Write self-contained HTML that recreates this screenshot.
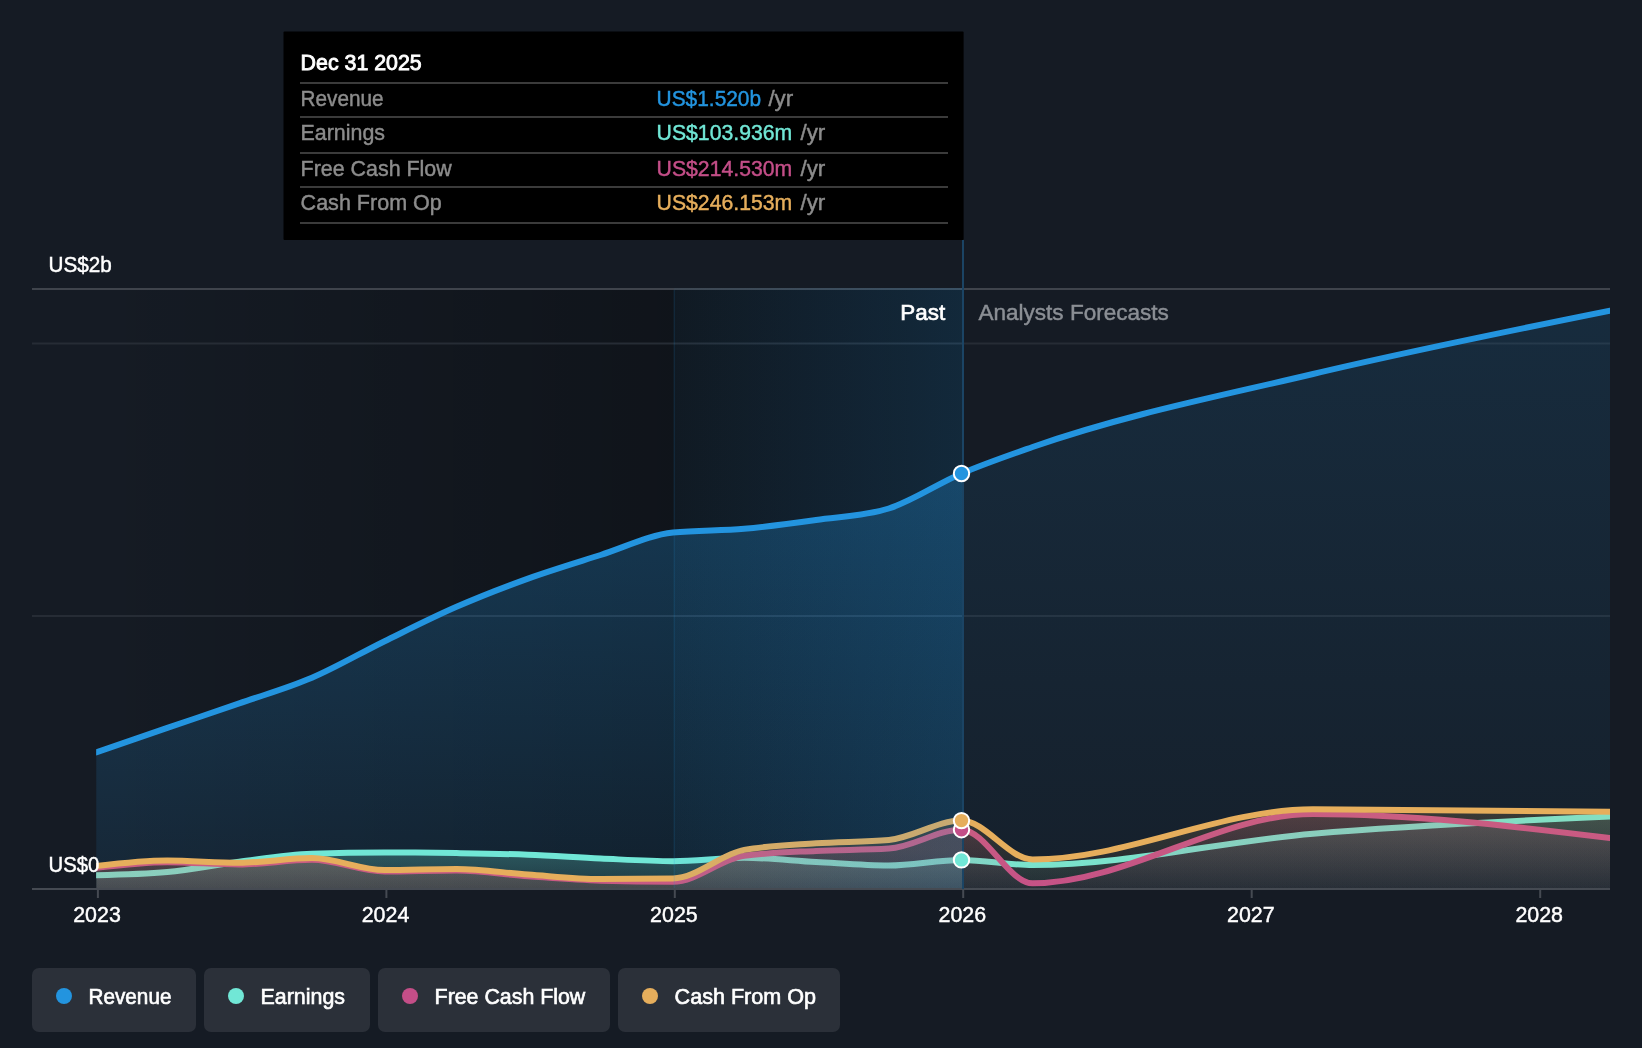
<!DOCTYPE html>
<html lang="en">
<head>
<meta charset="utf-8">
<title>Earnings and Revenue Growth</title>
<style>
html,body{margin:0;padding:0;background:#151b24;}
body{width:1642px;height:1048px;overflow:hidden;}
svg{display:block;will-change:transform;}
text{font-family:"Liberation Sans",sans-serif;}
.med{stroke-width:0.65px;}
</style>
</head>
<body>
<svg width="1642" height="1048" viewBox="0 0 1642 1048">
<defs>
  <linearGradient id="gPast" x1="0" y1="0" x2="1" y2="0">
    <stop offset="0" stop-color="#000" stop-opacity="0"/>
    <stop offset="0.667" stop-color="#000" stop-opacity="0.27"/>
    <stop offset="1" stop-color="#000" stop-opacity="0.30"/>
  </linearGradient>
  <linearGradient id="gHi" x1="0" y1="0" x2="1" y2="0">
    <stop offset="0" stop-color="#2394df" stop-opacity="0.045"/>
    <stop offset="1" stop-color="#2394df" stop-opacity="0.17"/>
  </linearGradient>
  <linearGradient id="gRevPast" gradientUnits="userSpaceOnUse" x1="0" y1="473" x2="0" y2="889">
    <stop offset="0" stop-color="#2394df" stop-opacity="0.29"/>
    <stop offset="1" stop-color="#2394df" stop-opacity="0.095"/>
  </linearGradient>
  <linearGradient id="gRevFut" gradientUnits="userSpaceOnUse" x1="0" y1="310" x2="0" y2="889">
    <stop offset="0" stop-color="#2394df" stop-opacity="0.137"/>
    <stop offset="1" stop-color="#2394df" stop-opacity="0.04"/>
  </linearGradient>
  <linearGradient id="gEar" gradientUnits="userSpaceOnUse" x1="0" y1="850" x2="0" y2="889">
    <stop offset="0" stop-color="#71e7d6" stop-opacity="0.27"/>
    <stop offset="1" stop-color="#71e7d6" stop-opacity="0.12"/>
  </linearGradient>
  <linearGradient id="gEarF" gradientUnits="userSpaceOnUse" x1="0" y1="810" x2="0" y2="889">
    <stop offset="0" stop-color="#71e7d6" stop-opacity="0.17"/>
    <stop offset="1" stop-color="#71e7d6" stop-opacity="0.04"/>
  </linearGradient>
  <linearGradient id="gFcf" gradientUnits="userSpaceOnUse" x1="0" y1="850" x2="0" y2="889">
    <stop offset="0" stop-color="#c44e88" stop-opacity="0.16"/>
    <stop offset="1" stop-color="#c44e88" stop-opacity="0.11"/>
  </linearGradient>
  <linearGradient id="gFcfF" gradientUnits="userSpaceOnUse" x1="0" y1="810" x2="0" y2="889">
    <stop offset="0" stop-color="#c44e88" stop-opacity="0.17"/>
    <stop offset="1" stop-color="#c44e88" stop-opacity="0.04"/>
  </linearGradient>
  <linearGradient id="gCfo" gradientUnits="userSpaceOnUse" x1="0" y1="850" x2="0" y2="889">
    <stop offset="0" stop-color="#e6ae5c" stop-opacity="0.17"/>
    <stop offset="1" stop-color="#e6ae5c" stop-opacity="0.11"/>
  </linearGradient>
  <linearGradient id="gCfoF" gradientUnits="userSpaceOnUse" x1="0" y1="810" x2="0" y2="889">
    <stop offset="0" stop-color="#e6ae5c" stop-opacity="0.17"/>
    <stop offset="1" stop-color="#e6ae5c" stop-opacity="0.04"/>
  </linearGradient>
  <clipPath id="cPast"><rect x="96.15" y="280" width="866.85" height="620"/></clipPath>
  <clipPath id="cFut"><rect x="963.0" y="280" width="647.0" height="620"/></clipPath>
  <clipPath id="cHi"><rect x="674.0" y="280" width="289.0" height="620"/></clipPath>
  <clipPath id="cPlot"><rect x="96.15" y="280" width="1513.85" height="611"/></clipPath>
</defs>
<rect x="0" y="0" width="1642" height="1048" fill="#151b24"/>

<rect x="96.15" y="290" width="866.85" height="599.0" fill="url(#gPast)"/>
<rect x="32.0" y="288" width="1578.0" height="2" fill="#3f444c"/>
<rect x="32.0" y="342.5" width="1578.0" height="2" fill="#262c35"/>
<rect x="32.0" y="615" width="1578.0" height="2" fill="#262c35"/>
<g clip-path="url(#cPlot)">
<g clip-path="url(#cPast)"><path d="M96.15,752.30 C119.87,744.15 143.58,736.01 167.30,727.90 C191.27,719.71 215.23,711.70 239.20,703.40 C263.43,695.01 287.67,688.17 311.90,677.80 C336.13,667.43 360.37,653.10 384.60,641.20 C408.57,629.44 432.53,617.26 456.50,606.80 C480.33,596.40 504.17,587.18 528.00,578.60 C552.20,569.89 576.40,562.69 600.60,555.00 C624.75,547.32 648.90,535.01 673.05,532.50 C696.77,530.03 720.48,530.86 744.20,528.80 C768.17,526.71 792.13,523.36 816.10,520.00 C840.33,516.60 864.57,516.17 888.80,508.50 C913.03,500.83 937.27,483.83 961.50,473.50 C985.20,463.39 1008.90,455.29 1032.60,447.00 C1126.07,414.29 1219.53,396.19 1313.00,374.00 C1412.00,350.50 1511.00,330.60 1610.00,310.70 L1610.0,889.0 L96.15,889.0 Z" fill="url(#gRevPast)"/></g>
<g clip-path="url(#cFut)"><path d="M96.15,752.30 C119.87,744.15 143.58,736.01 167.30,727.90 C191.27,719.71 215.23,711.70 239.20,703.40 C263.43,695.01 287.67,688.17 311.90,677.80 C336.13,667.43 360.37,653.10 384.60,641.20 C408.57,629.44 432.53,617.26 456.50,606.80 C480.33,596.40 504.17,587.18 528.00,578.60 C552.20,569.89 576.40,562.69 600.60,555.00 C624.75,547.32 648.90,535.01 673.05,532.50 C696.77,530.03 720.48,530.86 744.20,528.80 C768.17,526.71 792.13,523.36 816.10,520.00 C840.33,516.60 864.57,516.17 888.80,508.50 C913.03,500.83 937.27,483.83 961.50,473.50 C985.20,463.39 1008.90,455.29 1032.60,447.00 C1126.07,414.29 1219.53,396.19 1313.00,374.00 C1412.00,350.50 1511.00,330.60 1610.00,310.70 L1610.0,889.0 L96.15,889.0 Z" fill="url(#gRevFut)"/></g>
<path d="M90.15,754.36 L96.15,752.30 C119.87,744.15 143.58,736.01 167.30,727.90 C191.27,719.71 215.23,711.70 239.20,703.40 C263.43,695.01 287.67,688.17 311.90,677.80 C336.13,667.43 360.37,653.10 384.60,641.20 C408.57,629.44 432.53,617.26 456.50,606.80 C480.33,596.40 504.17,587.18 528.00,578.60 C552.20,569.89 576.40,562.69 600.60,555.00 C624.75,547.32 648.90,535.01 673.05,532.50 C696.77,530.03 720.48,530.86 744.20,528.80 C768.17,526.71 792.13,523.36 816.10,520.00 C840.33,516.60 864.57,516.17 888.80,508.50 C913.03,500.83 937.27,483.83 961.50,473.50 C985.20,463.39 1008.90,455.29 1032.60,447.00 C1126.07,414.29 1219.53,396.19 1313.00,374.00 C1412.00,350.50 1511.00,330.60 1610.00,310.70 L1616.00,309.42" fill="none" stroke="#2394df" stroke-width="6" stroke-linejoin="round"/>
<g clip-path="url(#cPast)"><path d="M96.15,875.20 C119.87,874.67 143.58,874.13 167.30,872.00 C191.27,869.84 215.23,864.72 239.20,861.70 C263.43,858.65 287.67,854.67 311.90,853.80 C336.13,852.93 360.37,852.50 384.60,852.50 C408.57,852.50 432.53,852.73 456.50,853.10 C480.33,853.47 504.17,853.81 528.00,854.70 C552.20,855.60 576.40,857.42 600.60,858.50 C624.75,859.58 648.90,861.20 673.05,861.20 C696.77,861.20 720.48,857.80 744.20,857.80 C768.17,857.80 792.13,860.72 816.10,862.00 C840.33,863.29 864.57,865.50 888.80,865.50 C913.03,865.50 937.27,859.90 961.50,859.90 C985.20,859.90 1008.90,865.10 1032.60,865.10 C1126.07,865.10 1219.53,841.70 1313.00,833.70 C1412.00,825.23 1511.00,820.91 1610.00,816.60 L1610.0,889.0 L96.15,889.0 Z" fill="url(#gEar)"/></g>
<g clip-path="url(#cFut)"><path d="M96.15,875.20 C119.87,874.67 143.58,874.13 167.30,872.00 C191.27,869.84 215.23,864.72 239.20,861.70 C263.43,858.65 287.67,854.67 311.90,853.80 C336.13,852.93 360.37,852.50 384.60,852.50 C408.57,852.50 432.53,852.73 456.50,853.10 C480.33,853.47 504.17,853.81 528.00,854.70 C552.20,855.60 576.40,857.42 600.60,858.50 C624.75,859.58 648.90,861.20 673.05,861.20 C696.77,861.20 720.48,857.80 744.20,857.80 C768.17,857.80 792.13,860.72 816.10,862.00 C840.33,863.29 864.57,865.50 888.80,865.50 C913.03,865.50 937.27,859.90 961.50,859.90 C985.20,859.90 1008.90,865.10 1032.60,865.10 C1126.07,865.10 1219.53,841.70 1313.00,833.70 C1412.00,825.23 1511.00,820.91 1610.00,816.60 L1610.0,889.0 L96.15,889.0 Z" fill="url(#gEarF)"/></g>
<path d="M90.15,875.47 L96.15,875.20 C119.87,874.67 143.58,874.13 167.30,872.00 C191.27,869.84 215.23,864.72 239.20,861.70 C263.43,858.65 287.67,854.67 311.90,853.80 C336.13,852.93 360.37,852.50 384.60,852.50 C408.57,852.50 432.53,852.73 456.50,853.10 C480.33,853.47 504.17,853.81 528.00,854.70 C552.20,855.60 576.40,857.42 600.60,858.50 C624.75,859.58 648.90,861.20 673.05,861.20 C696.77,861.20 720.48,857.80 744.20,857.80 C768.17,857.80 792.13,860.72 816.10,862.00 C840.33,863.29 864.57,865.50 888.80,865.50 C913.03,865.50 937.27,859.90 961.50,859.90 C985.20,859.90 1008.90,865.10 1032.60,865.10 C1126.07,865.10 1219.53,841.70 1313.00,833.70 C1412.00,825.23 1511.00,820.91 1610.00,816.60 L1616.00,816.25" fill="none" stroke="#71e7d6" stroke-width="6" stroke-linejoin="round"/>
<g clip-path="url(#cPast)"><path d="M96.15,867.80 C119.87,865.00 143.58,862.20 167.30,862.20 C191.27,862.20 215.23,864.50 239.20,864.50 C263.43,864.50 287.67,859.80 311.90,859.80 C336.13,859.80 360.37,871.60 384.60,871.60 C408.57,871.60 432.53,870.60 456.50,870.60 C480.33,870.60 504.17,874.53 528.00,876.20 C552.20,877.90 576.40,879.97 600.60,880.70 C624.75,881.43 648.90,881.80 673.05,881.80 C696.77,881.80 720.48,859.03 744.20,855.80 C768.17,852.53 792.13,852.10 816.10,850.90 C840.33,849.69 864.57,850.13 888.80,848.60 C913.03,847.07 937.27,829.70 961.50,829.70 C985.20,829.70 1008.90,883.30 1032.60,883.30 C1126.07,883.30 1219.53,814.00 1313.00,814.00 C1412.00,814.00 1511.00,826.05 1610.00,838.10 L1610.0,889.0 L96.15,889.0 Z" fill="url(#gFcf)"/></g>
<g clip-path="url(#cFut)"><path d="M96.15,867.80 C119.87,865.00 143.58,862.20 167.30,862.20 C191.27,862.20 215.23,864.50 239.20,864.50 C263.43,864.50 287.67,859.80 311.90,859.80 C336.13,859.80 360.37,871.60 384.60,871.60 C408.57,871.60 432.53,870.60 456.50,870.60 C480.33,870.60 504.17,874.53 528.00,876.20 C552.20,877.90 576.40,879.97 600.60,880.70 C624.75,881.43 648.90,881.80 673.05,881.80 C696.77,881.80 720.48,859.03 744.20,855.80 C768.17,852.53 792.13,852.10 816.10,850.90 C840.33,849.69 864.57,850.13 888.80,848.60 C913.03,847.07 937.27,829.70 961.50,829.70 C985.20,829.70 1008.90,883.30 1032.60,883.30 C1126.07,883.30 1219.53,814.00 1313.00,814.00 C1412.00,814.00 1511.00,826.05 1610.00,838.10 L1610.0,889.0 L96.15,889.0 Z" fill="url(#gFcfF)"/></g>
<path d="M90.15,868.27 L96.15,867.80 C119.87,865.00 143.58,862.20 167.30,862.20 C191.27,862.20 215.23,864.50 239.20,864.50 C263.43,864.50 287.67,859.80 311.90,859.80 C336.13,859.80 360.37,871.60 384.60,871.60 C408.57,871.60 432.53,870.60 456.50,870.60 C480.33,870.60 504.17,874.53 528.00,876.20 C552.20,877.90 576.40,879.97 600.60,880.70 C624.75,881.43 648.90,881.80 673.05,881.80 C696.77,881.80 720.48,859.03 744.20,855.80 C768.17,852.53 792.13,852.10 816.10,850.90 C840.33,849.69 864.57,850.13 888.80,848.60 C913.03,847.07 937.27,829.70 961.50,829.70 C985.20,829.70 1008.90,883.30 1032.60,883.30 C1126.07,883.30 1219.53,814.00 1313.00,814.00 C1412.00,814.00 1511.00,826.05 1610.00,838.10 L1616.00,838.59" fill="none" stroke="#c44e88" stroke-width="6" stroke-linejoin="round"/>
<g clip-path="url(#cPast)"><path d="M96.15,866.00 C119.87,863.25 143.58,860.50 167.30,860.50 C191.27,860.50 215.23,862.80 239.20,862.80 C263.43,862.80 287.67,858.10 311.90,858.10 C336.13,858.10 360.37,870.00 384.60,870.00 C408.57,870.00 432.53,869.00 456.50,869.00 C480.33,869.00 504.17,872.84 528.00,874.50 C552.20,876.18 576.40,879.00 600.60,879.00 C624.75,879.00 648.90,878.80 673.05,878.40 C696.77,878.01 720.48,854.25 744.20,849.90 C768.17,845.50 792.13,844.95 816.10,843.30 C840.33,841.63 864.57,842.20 888.80,840.00 C913.03,837.80 937.27,820.60 961.50,820.60 C985.20,820.60 1008.90,859.40 1032.60,859.40 C1126.07,859.40 1219.53,809.30 1313.00,809.30 C1412.00,809.30 1511.00,810.55 1610.00,811.80 L1610.0,889.0 L96.15,889.0 Z" fill="url(#gCfo)"/></g>
<g clip-path="url(#cFut)"><path d="M96.15,866.00 C119.87,863.25 143.58,860.50 167.30,860.50 C191.27,860.50 215.23,862.80 239.20,862.80 C263.43,862.80 287.67,858.10 311.90,858.10 C336.13,858.10 360.37,870.00 384.60,870.00 C408.57,870.00 432.53,869.00 456.50,869.00 C480.33,869.00 504.17,872.84 528.00,874.50 C552.20,876.18 576.40,879.00 600.60,879.00 C624.75,879.00 648.90,878.80 673.05,878.40 C696.77,878.01 720.48,854.25 744.20,849.90 C768.17,845.50 792.13,844.95 816.10,843.30 C840.33,841.63 864.57,842.20 888.80,840.00 C913.03,837.80 937.27,820.60 961.50,820.60 C985.20,820.60 1008.90,859.40 1032.60,859.40 C1126.07,859.40 1219.53,809.30 1313.00,809.30 C1412.00,809.30 1511.00,810.55 1610.00,811.80 L1610.0,889.0 L96.15,889.0 Z" fill="url(#gCfoF)"/></g>
<path d="M90.15,866.46 L96.15,866.00 C119.87,863.25 143.58,860.50 167.30,860.50 C191.27,860.50 215.23,862.80 239.20,862.80 C263.43,862.80 287.67,858.10 311.90,858.10 C336.13,858.10 360.37,870.00 384.60,870.00 C408.57,870.00 432.53,869.00 456.50,869.00 C480.33,869.00 504.17,872.84 528.00,874.50 C552.20,876.18 576.40,879.00 600.60,879.00 C624.75,879.00 648.90,878.80 673.05,878.40 C696.77,878.01 720.48,854.25 744.20,849.90 C768.17,845.50 792.13,844.95 816.10,843.30 C840.33,841.63 864.57,842.20 888.80,840.00 C913.03,837.80 937.27,820.60 961.50,820.60 C985.20,820.60 1008.90,859.40 1032.60,859.40 C1126.07,859.40 1219.53,809.30 1313.00,809.30 C1412.00,809.30 1511.00,810.55 1610.00,811.80 L1616.00,811.85" fill="none" stroke="#e6ae5c" stroke-width="6" stroke-linejoin="round"/>
</g>
<rect x="674.0" y="288" width="289.0" height="600.0" fill="url(#gHi)"/>
<rect x="673.5" y="290" width="1.5" height="598.0" fill="#2394df" fill-opacity="0.12"/>
<rect x="32.0" y="888" width="1578.0" height="2" fill="#454a52"/>
<rect x="96.9" y="890" width="2" height="8" fill="#454a52"/>
<text x="97.0" y="921.5" font-size="22" fill="#ffffff" text-anchor="middle" textLength="47.6" lengthAdjust="spacingAndGlyphs" stroke="#ffffff" stroke-width="0.45">2023</text>
<rect x="385.4" y="890" width="2" height="8" fill="#454a52"/>
<text x="385.5" y="921.5" font-size="22" fill="#ffffff" text-anchor="middle" textLength="47.6" lengthAdjust="spacingAndGlyphs" stroke="#ffffff" stroke-width="0.45">2024</text>
<rect x="673.8" y="890" width="2" height="8" fill="#454a52"/>
<text x="673.9" y="921.5" font-size="22" fill="#ffffff" text-anchor="middle" textLength="47.6" lengthAdjust="spacingAndGlyphs" stroke="#ffffff" stroke-width="0.45">2025</text>
<rect x="962.2" y="890" width="2" height="8" fill="#454a52"/>
<text x="962.3" y="921.5" font-size="22" fill="#ffffff" text-anchor="middle" textLength="47.6" lengthAdjust="spacingAndGlyphs" stroke="#ffffff" stroke-width="0.45">2026</text>
<rect x="1250.7" y="890" width="2" height="8" fill="#454a52"/>
<text x="1250.8" y="921.5" font-size="22" fill="#ffffff" text-anchor="middle" textLength="47.6" lengthAdjust="spacingAndGlyphs" stroke="#ffffff" stroke-width="0.45">2027</text>
<rect x="1539.2" y="890" width="2" height="8" fill="#454a52"/>
<text x="1539.2" y="921.5" font-size="22" fill="#ffffff" text-anchor="middle" textLength="47.6" lengthAdjust="spacingAndGlyphs" stroke="#ffffff" stroke-width="0.45">2028</text>
<text x="48.6" y="272.2" font-size="22" fill="#ffffff" textLength="63.3" lengthAdjust="spacingAndGlyphs" stroke="#ffffff" stroke-width="0.45">US$2b</text>
<text x="48.6" y="871.6" font-size="22" fill="#ffffff" textLength="50.8" lengthAdjust="spacingAndGlyphs" stroke="#ffffff" stroke-width="0.45">US$0</text>
<rect x="962" y="240" width="2" height="649.0" fill="#1b4464"/>
<text x="945.2" y="319.8" font-size="22" fill="#ffffff" text-anchor="end" textLength="44.9" lengthAdjust="spacingAndGlyphs" class="med" stroke="#ffffff">Past</text>
<text x="978.4" y="319.8" font-size="22" fill="#8b8f95" textLength="190.5" lengthAdjust="spacingAndGlyphs" stroke="#8b8f95" stroke-width="0.45">Analysts Forecasts</text>
<circle cx="961.5" cy="473.5" r="7.7" fill="#2394df" stroke="#ffffff" stroke-width="2"/>
<circle cx="961.5" cy="859.9" r="7.7" fill="#71e7d6" stroke="#ffffff" stroke-width="2"/>
<circle cx="961.5" cy="829.7" r="7.7" fill="#c44e88" stroke="#ffffff" stroke-width="2"/>
<circle cx="961.5" cy="820.6" r="7.7" fill="#e6ae5c" stroke="#ffffff" stroke-width="2"/>
<rect x="283.5" y="31.6" width="680.1" height="208.3" rx="1" fill="#000000"/>
<text x="300.6" y="69.9" font-size="22" fill="#ffffff" textLength="121.1" lengthAdjust="spacingAndGlyphs" stroke="#ffffff" stroke-width="0.9">Dec 31 2025</text>
<rect x="300" y="82" width="648" height="2" fill="#3b3b3b"/>
<rect x="300" y="116" width="648" height="2" fill="#3b3b3b"/>
<rect x="300" y="152" width="648" height="2" fill="#3b3b3b"/>
<rect x="300" y="186" width="648" height="2" fill="#3b3b3b"/>
<rect x="300" y="222" width="648" height="2" fill="#3b3b3b"/>
<text x="300.6" y="105.5" font-size="22" fill="#8c8c8c" textLength="83.0" lengthAdjust="spacingAndGlyphs" stroke="#8c8c8c" stroke-width="0.45">Revenue</text>
<text x="656.6" y="105.5" font-size="22" fill="#2394df" textLength="104.5" lengthAdjust="spacingAndGlyphs" stroke="#2394df" stroke-width="0.45">US$1.520b</text>
<text x="768.4" y="105.5" font-size="22" fill="#8c8c8c" textLength="24.8" lengthAdjust="spacingAndGlyphs" stroke="#8c8c8c" stroke-width="0.45">/yr</text>
<text x="300.6" y="139.7" font-size="22" fill="#8c8c8c" textLength="84.4" lengthAdjust="spacingAndGlyphs" stroke="#8c8c8c" stroke-width="0.45">Earnings</text>
<text x="656.6" y="139.7" font-size="22" fill="#71e7d6" textLength="135.6" lengthAdjust="spacingAndGlyphs" stroke="#71e7d6" stroke-width="0.45">US$103.936m</text>
<text x="800.5" y="139.7" font-size="22" fill="#8c8c8c" textLength="24.8" lengthAdjust="spacingAndGlyphs" stroke="#8c8c8c" stroke-width="0.45">/yr</text>
<text x="300.6" y="175.5" font-size="22" fill="#8c8c8c" textLength="151.1" lengthAdjust="spacingAndGlyphs" stroke="#8c8c8c" stroke-width="0.45">Free Cash Flow</text>
<text x="656.6" y="175.5" font-size="22" fill="#c44e88" textLength="135.6" lengthAdjust="spacingAndGlyphs" stroke="#c44e88" stroke-width="0.45">US$214.530m</text>
<text x="800.5" y="175.5" font-size="22" fill="#8c8c8c" textLength="24.8" lengthAdjust="spacingAndGlyphs" stroke="#8c8c8c" stroke-width="0.45">/yr</text>
<text x="300.6" y="209.7" font-size="22" fill="#8c8c8c" textLength="141.2" lengthAdjust="spacingAndGlyphs" stroke="#8c8c8c" stroke-width="0.45">Cash From Op</text>
<text x="656.6" y="209.7" font-size="22" fill="#e6ae5c" textLength="135.6" lengthAdjust="spacingAndGlyphs" stroke="#e6ae5c" stroke-width="0.45">US$246.153m</text>
<text x="800.5" y="209.7" font-size="22" fill="#8c8c8c" textLength="24.8" lengthAdjust="spacingAndGlyphs" stroke="#8c8c8c" stroke-width="0.45">/yr</text>
<rect x="32" y="968" width="164" height="64" rx="7" ry="7" fill="#2b3039"/>
<circle cx="64" cy="996" r="8" fill="#2394df"/>
<text x="88.6" y="1003.6" font-size="22" fill="#ffffff" textLength="82.8" lengthAdjust="spacingAndGlyphs" class="med" stroke="#ffffff">Revenue</text>
<rect x="204" y="968" width="166" height="64" rx="7" ry="7" fill="#2b3039"/>
<circle cx="236" cy="996" r="8" fill="#71e7d6"/>
<text x="260.6" y="1003.6" font-size="22" fill="#ffffff" textLength="84.4" lengthAdjust="spacingAndGlyphs" class="med" stroke="#ffffff">Earnings</text>
<rect x="378" y="968" width="232" height="64" rx="7" ry="7" fill="#2b3039"/>
<circle cx="410" cy="996" r="8" fill="#c44e88"/>
<text x="434.6" y="1003.6" font-size="22" fill="#ffffff" textLength="150.7" lengthAdjust="spacingAndGlyphs" class="med" stroke="#ffffff">Free Cash Flow</text>
<rect x="618" y="968" width="222" height="64" rx="7" ry="7" fill="#2b3039"/>
<circle cx="650" cy="996" r="8" fill="#e6ae5c"/>
<text x="674.6" y="1003.6" font-size="22" fill="#ffffff" textLength="141.4" lengthAdjust="spacingAndGlyphs" class="med" stroke="#ffffff">Cash From Op</text>
</svg>
</body>
</html>
